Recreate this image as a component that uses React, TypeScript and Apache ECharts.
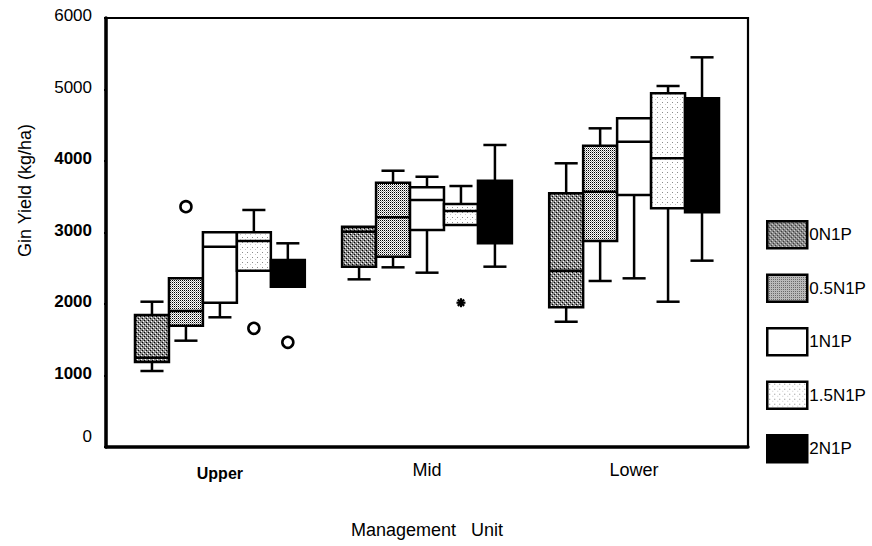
import React, { useEffect, useRef } from 'react';
import * as echarts from 'echarts';

const units = ['Upper', 'Mid', 'Lower'];
const treatments = ['0N1P', '0.5N1P', '1N1P', '1.5N1P', '2N1P'];
// [min, Q1, median, Q3, max] for Upper, Mid, Lower
const n0 = [[1063, 1190, 1250, 1846, 2032], [2345, 2522, 3010, 3081, 3081], [1752, 1954, 2466, 3548, 3968]];
const n05 = [[1487, 1697, 1902, 2359, 2359], [2513, 2662, 3213, 3697, 3864], [2322, 2881, 3571, 4214, 4457]];
const n1 = [[1814, 2018, 2801, 3003, 3003], [2438, 3035, 3455, 3632, 3780], [2359, 3524, 4270, 4597, 4597]];
const n15 = [[2466, 2466, 2881, 3003, 3315], [3105, 3105, 3301, 3399, 3650], [2032, 3338, 4038, 4947, 5049]];
const n2 = [[2242, 2242, 2430, 2615, 2849], [2522, 2849, 3300, 3724, 4224], [2606, 3283, 4050, 4877, 5450]];
const boxData = [n0, n05, n1, n15, n2];
// [unit index, treatment index, value]
const circleOutliers = [[0, 1, 3361], [0, 3, 1660], [0, 4, 1464]];
const starOutliers = [[1, 3, 2018]];

const FONT = '"Liberation Sans", Arial, sans-serif';
const BOX_FRAC = 0.164;

function tile(size: number, bg: string, dots: [number, number, string][]) {
  const c = document.createElement('canvas');
  c.width = size;
  c.height = size;
  const g = c.getContext('2d')!;
  g.fillStyle = bg;
  g.fillRect(0, 0, size, size);
  dots.forEach(([x, y, col]) => {
    g.fillStyle = col;
    g.fillRect(x, y, 1, 1);
  });
  return { image: c, repeat: 'repeat' } as any;
}

export default function App() {
  const ref = useRef<HTMLDivElement>(null);
  useEffect(() => {
    document.body.style.margin = '0';
    const chart = echarts.init(ref.current!, undefined, { renderer: 'svg' });
    const fills: any[] = [
      tile(4, '#8a8a8a', [[0, 0, '#000'], [2, 2, '#000'], [1, 3, '#fff'], [3, 1, '#fff']]),
      tile(2, '#ffffff', [[0, 0, '#000'], [1, 1, '#9a9a9a']]),
      '#ffffff',
      tile(5, '#ffffff', [[2, 2, '#8c8c8c'], [0, 4, '#c8c8c8']]),
      '#000000',
    ];
    const lw = 2.5;
    const boxSeries = treatments.map((name, t) => ({
      name,
      type: 'custom',
      itemStyle: { color: fills[t], borderColor: '#000', borderWidth: lw },
      encode: { x: 0, y: [1, 2, 3, 4, 5] },
      data: boxData[t].map((d, u) => [u, ...d]),
      renderItem: (params: any, api: any) => {
        const u = api.value(0);
        const mn = api.value(1), q1 = api.value(2), md = api.value(3), q3 = api.value(4), mx = api.value(5);
        const unitPx = api.size([1, 0])[0];
        const bw = unitPx * BOX_FRAC;
        const cx = api.coord([u, 0])[0] + (t - 2) * bw;
        const y = (v: number) => api.coord([u, v])[1];
        const cap = bw * 0.34;
        const st = { stroke: '#000', lineWidth: lw };
        const children: any[] = [];
        if (mx > q3) {
          children.push({ type: 'line', shape: { x1: cx, y1: y(q3), x2: cx, y2: y(mx) }, style: st });
          children.push({ type: 'line', shape: { x1: cx - cap, y1: y(mx), x2: cx + cap, y2: y(mx) }, style: st });
        }
        if (mn < q1) {
          children.push({ type: 'line', shape: { x1: cx, y1: y(q1), x2: cx, y2: y(mn) }, style: st });
          children.push({ type: 'line', shape: { x1: cx - cap, y1: y(mn), x2: cx + cap, y2: y(mn) }, style: st });
        }
        children.push({
          type: 'rect',
          shape: { x: cx - bw / 2, y: y(q3), width: bw, height: y(q1) - y(q3) },
          style: { fill: fills[t], stroke: '#000', lineWidth: lw },
        });
        children.push({ type: 'line', shape: { x1: cx - bw / 2, y1: y(md), x2: cx + bw / 2, y2: y(md) }, style: st });
        return { type: 'group', children };
      },
    }));
    const outlierSeries = {
      name: 'outliers',
      type: 'custom',
      encode: { x: 0, y: 2 },
      data: [...circleOutliers.map((d) => [...d, 0]), ...starOutliers.map((d) => [...d, 1])],
      renderItem: (params: any, api: any) => {
        const u = api.value(0), t = api.value(1), v = api.value(2), kind = api.value(3);
        const unitPx = api.size([1, 0])[0];
        const bw = unitPx * BOX_FRAC;
        const cx = api.coord([u, 0])[0] + (t - 2) * bw;
        const cy = api.coord([u, v])[1];
        if (kind === 0) {
          return { type: 'circle', shape: { cx, cy, r: 5.5 }, style: { fill: '#fff', stroke: '#000', lineWidth: 2.6 } };
        }
        const r = 4.5;
        const st = { stroke: '#000', lineWidth: 2.2 };
        const children: any[] = [];
        for (let k = 0; k < 4; k++) {
          const a = (k * Math.PI) / 4;
          children.push({ type: 'line', shape: { x1: cx - r * Math.cos(a), y1: cy - r * Math.sin(a), x2: cx + r * Math.cos(a), y2: cy + r * Math.sin(a) }, style: st });
        }
        return { type: 'group', children };
      },
    };
    chart.setOption({
      animation: false,
      textStyle: { fontFamily: FONT, color: '#000' },
      grid: { left: 106, right: 124, top: 18, bottom: 99, show: true, borderColor: '#000', borderWidth: 2.2, backgroundColor: 'transparent' },
      legend: {
        data: treatments,
        orient: 'vertical',
        left: 761,
        top: 215,
        itemWidth: 40,
        itemHeight: 27,
        itemGap: 24,
        icon: 'rect',
        align: 'left',
        itemStyle: { borderColor: '#000', borderWidth: 2.5 },
        textStyle: { fontSize: 17, fontFamily: FONT, color: '#000', padding: [0, 0, 0, -3] },
        selectedMode: false,
      },
      xAxis: {
        type: 'value',
        min: -0.55,
        max: 2.55,
        splitLine: { show: false },
        axisTick: { show: false },
        axisLine: { show: true, onZero: false, lineStyle: { color: '#000', width: 3.5 } },
        axisLabel: {
          customValues: [0, 1, 2],
          margin: 13,
          formatter: (v: number) => {
            const i = Math.round(v);
            return i === 0 ? `{b|${units[i]}}` : `{n|${units[i]}}`;
          },
          rich: {
            b: { fontSize: 16, fontWeight: 'bold', lineHeight: 26, fontFamily: FONT, color: '#000' },
            n: { fontSize: 18, lineHeight: 20, fontFamily: FONT, color: '#000' },
          },
        },
        name: 'Management   Unit',
        nameLocation: 'middle',
        nameGap: 74,
        nameTextStyle: { fontSize: 18, fontFamily: FONT, color: '#000' },
      },
      yAxis: {
        type: 'value',
        min: 0,
        max: 6000,
        interval: 1000,
        splitLine: { show: false },
        axisLine: { show: true, onZero: false, lineStyle: { color: '#000', width: 3.5 } },
        axisTick: { show: true, length: 2, lineStyle: { color: '#000', width: 2 } },
        axisLabel: {
          margin: 14,
          formatter: (v: number) => (v >= 5000 ? `{r|${v}}` : v === 0 ? `{z|${v}}` : `{k|${v}}`),
          rich: {
            r: { fontSize: 17, fontFamily: FONT, color: '#000', padding: [0, 0, 5, 0] },
            k: { fontSize: 17, fontWeight: 'bold', fontFamily: FONT, color: '#000', padding: [0, 0, 5, 0] },
            z: { fontSize: 17, fontFamily: FONT, color: '#000', padding: [0, 0, 22, 0] },
          },
        },
        name: 'Gin Yield (kg/ha)',
        nameLocation: 'middle',
        nameGap: 72,
        nameTextStyle: { fontSize: 18, fontFamily: FONT, color: '#000', padding: [0, 0, 0, 84] },
      },
      series: [...boxSeries, outlierSeries],
    });
    return () => chart.dispose();
  }, []);
  return <div ref={ref} style={{ width: 872, height: 546 }} />;
}
